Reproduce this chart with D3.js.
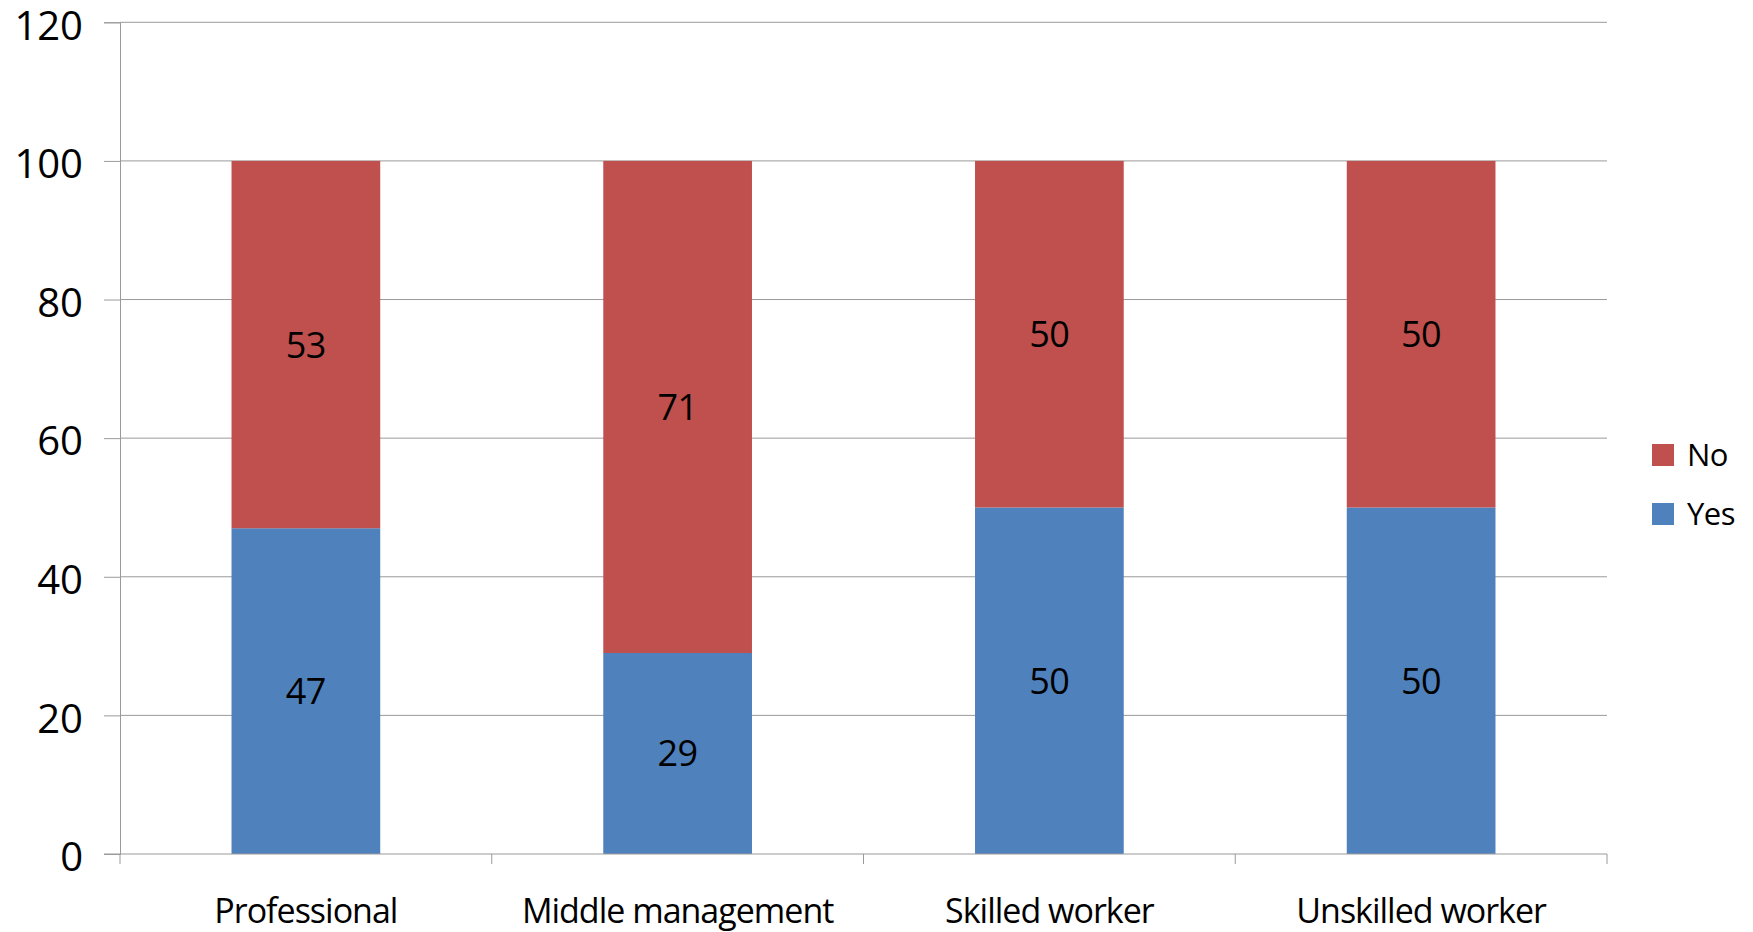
<!DOCTYPE html>
<html>
<head>
<meta charset="utf-8">
<script src="https://cdn.jsdelivr.net/npm/d3@7"></script>
<style>
  body { margin: 0; background: #fff; }
  svg text { font-family: "Open Sans", sans-serif; fill: #000; }
</style>
</head>
<body>
<svg id="chart" width="1753" height="932"></svg>
<script>
// data
const categories = ["Professional", "Middle management", "Skilled worker", "Unskilled worker"];
const yesValues = [47, 29, 50, 50];
const noValues = [53, 71, 50, 50];
const seriesNames = ["Yes", "No"];
const seriesColors = ["#4f81bd", "#c0504d"];
const yTicks = [0, 20, 40, 60, 80, 100, 120];

const svg = d3.select("#chart");

// plot box
const plotLeft = 120, plotRight = 1607, plotTop = 22.3, plotBottom = 854;

const x = d3.scaleBand()
  .domain(categories)
  .range([plotLeft, plotRight])
  .paddingInner(0.6)
  .paddingOuter(0.3);

const y = d3.scaleLinear()
  .domain([0, 120])
  .range([plotBottom, plotTop]);

// stacked rows
const rows = categories.map((c, i) => ({ cat: c, Yes: yesValues[i], No: noValues[i] }));
const stacked = d3.stack().keys(seriesNames)(rows);

// gridlines
svg.append("g")
  .selectAll("line")
  .data(yTicks.filter(d => d > 0))
  .enter().append("line")
  .attr("x1", plotLeft).attr("x2", plotRight)
  .attr("y1", d => y(d)).attr("y2", d => y(d))
  .attr("stroke", "#9a9a9a")
  .attr("stroke-width", 1);

// y axis
const yAxis = svg.append("g")
  .attr("transform", `translate(${plotLeft},0)`)
  .call(d3.axisLeft(y).tickValues(yTicks).tickSize(16).tickPadding(21));
yAxis.select(".domain").attr("stroke", "#9a9a9a");
yAxis.selectAll(".tick line").attr("stroke", "#9a9a9a");
yAxis.selectAll(".tick text")
  .attr("font-size", 40)
  .attr("font-family", "Open Sans")
  .attr("dy", "0.42em");

// bars
const layer = svg.append("g")
  .selectAll("g")
  .data(stacked)
  .enter().append("g")
  .attr("fill", (d, i) => seriesColors[i]);

layer.selectAll("rect")
  .data(d => d)
  .enter().append("rect")
  .attr("x", d => x(d.data.cat))
  .attr("width", x.bandwidth())
  .attr("y", d => y(d[1]))
  .attr("height", d => y(d[0]) - y(d[1]));

// data labels
layer.selectAll("text")
  .data(d => d)
  .enter().append("text")
  .attr("x", d => x(d.data.cat) + x.bandwidth() / 2)
  .attr("y", d => y((d[0] + d[1]) / 2))
  .attr("dy", "0.36em")
  .attr("text-anchor", "middle")
  .attr("font-size", 36)
  .attr("letter-spacing", -0.5)
  .text(d => d[1] - d[0]);

// x axis line and category ticks
svg.append("line")
  .attr("x1", plotLeft - 16).attr("x2", plotRight)
  .attr("y1", plotBottom).attr("y2", plotBottom)
  .attr("stroke", "#9a9a9a");

const bounds = d3.range(categories.length + 1).map(i => plotLeft + i * x.step());
svg.append("g")
  .selectAll("line")
  .data(bounds)
  .enter().append("line")
  .attr("x1", d => d).attr("x2", d => d)
  .attr("y1", plotBottom).attr("y2", plotBottom + 10)
  .attr("stroke", "#9a9a9a");

svg.append("g")
  .selectAll("text")
  .data(categories)
  .enter().append("text")
  .attr("x", d => x(d) + x.bandwidth() / 2)
  .attr("y", 923)
  .attr("text-anchor", "middle")
  .attr("font-size", 34)
  .attr("letter-spacing", -1)
  .text(d => d);

// legend (No above Yes)
const legendItems = [
  { name: "No", color: seriesColors[1] },
  { name: "Yes", color: seriesColors[0] }
];
const legend = svg.append("g")
  .selectAll("g")
  .data(legendItems)
  .enter().append("g")
  .attr("transform", (d, i) => `translate(1652,${444 + i * 59})`);

legend.append("rect")
  .attr("width", 22).attr("height", 22)
  .attr("fill", d => d.color);

legend.append("text")
  .attr("x", 35)
  .attr("y", 11)
  .attr("dy", "0.36em")
  .attr("font-size", 31)
  .attr("letter-spacing", -0.5)
  .text(d => d.name);
</script>
</body>
</html>
